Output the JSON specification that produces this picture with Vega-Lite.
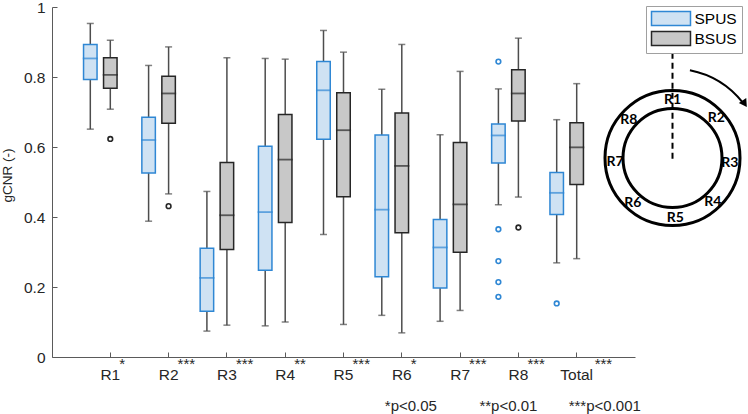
{
  "$schema": "https://vega.github.io/schema/vega-lite/v6.json",
  "autosize": {"type": "none"},
  "padding": {"left": 52, "top": 7, "right": 113, "bottom": 57},
  "width": 583,
  "height": 350,
  "background": "white",
  "config": {
    "view": {"stroke": null},
    "font": "Liberation Sans",
    "text": {"font": "Liberation Sans"}
  },
  "datasets": {
    "boxes": [
      {"region": "R1", "series": "SPUS", "lo": 0.651, "q1": 0.793, "med": 0.853, "q3": 0.893, "hi": 0.953},
      {"region": "R1", "series": "BSUS", "lo": 0.708, "q1": 0.768, "med": 0.806, "q3": 0.855, "hi": 0.905},
      {"region": "R2", "series": "SPUS", "lo": 0.388, "q1": 0.526, "med": 0.620, "q3": 0.685, "hi": 0.833},
      {"region": "R2", "series": "BSUS", "lo": 0.466, "q1": 0.668, "med": 0.753, "q3": 0.802, "hi": 0.886},
      {"region": "R3", "series": "SPUS", "lo": 0.074, "q1": 0.131, "med": 0.226, "q3": 0.311, "hi": 0.473},
      {"region": "R3", "series": "BSUS", "lo": 0.091, "q1": 0.307, "med": 0.405, "q3": 0.556, "hi": 0.855},
      {"region": "R4", "series": "SPUS", "lo": 0.089, "q1": 0.248, "med": 0.414, "q3": 0.602, "hi": 0.853},
      {"region": "R4", "series": "BSUS", "lo": 0.100, "q1": 0.384, "med": 0.564, "q3": 0.693, "hi": 0.851},
      {"region": "R5", "series": "SPUS", "lo": 0.350, "q1": 0.622, "med": 0.762, "q3": 0.844, "hi": 0.933},
      {"region": "R5", "series": "BSUS", "lo": 0.093, "q1": 0.458, "med": 0.648, "q3": 0.755, "hi": 0.871},
      {"region": "R6", "series": "SPUS", "lo": 0.119, "q1": 0.229, "med": 0.421, "q3": 0.634, "hi": 0.765},
      {"region": "R6", "series": "BSUS", "lo": 0.069, "q1": 0.355, "med": 0.546, "q3": 0.697, "hi": 0.893},
      {"region": "R7", "series": "SPUS", "lo": 0.102, "q1": 0.197, "med": 0.313, "q3": 0.393, "hi": 0.635},
      {"region": "R7", "series": "BSUS", "lo": 0.133, "q1": 0.299, "med": 0.436, "q3": 0.613, "hi": 0.816},
      {"region": "R8", "series": "SPUS", "lo": 0.435, "q1": 0.554, "med": 0.633, "q3": 0.666, "hi": 0.766},
      {"region": "R8", "series": "BSUS", "lo": 0.457, "q1": 0.674, "med": 0.753, "q3": 0.821, "hi": 0.911},
      {"region": "Total", "series": "SPUS", "lo": 0.269, "q1": 0.407, "med": 0.469, "q3": 0.527, "hi": 0.678},
      {"region": "Total", "series": "BSUS", "lo": 0.281, "q1": 0.493, "med": 0.599, "q3": 0.669, "hi": 0.781}
    ],
    "outliers": [
      {"region": "R1", "series": "BSUS", "value": 0.623},
      {"region": "R2", "series": "BSUS", "value": 0.431},
      {"region": "R8", "series": "SPUS", "value": 0.844},
      {"region": "R8", "series": "SPUS", "value": 0.365},
      {"region": "R8", "series": "SPUS", "value": 0.274},
      {"region": "R8", "series": "SPUS", "value": 0.214},
      {"region": "R8", "series": "SPUS", "value": 0.172},
      {"region": "R8", "series": "BSUS", "value": 0.370},
      {"region": "Total", "series": "SPUS", "value": 0.153}
    ],
    "stars": [
      {"region": "R1", "sig": "*"},
      {"region": "R2", "sig": "***"},
      {"region": "R3", "sig": "***"},
      {"region": "R4", "sig": "**"},
      {"region": "R5", "sig": "***"},
      {"region": "R6", "sig": "*"},
      {"region": "R7", "sig": "***"},
      {"region": "R8", "sig": "***"},
      {"region": "Total", "sig": "***"}
    ],
    "ring": [{"cx": 0, "cy": 0}],
    "axisline": [{"x": 0, "y": 1.54, "y2": -0.03}],
    "sectors": [
      {"name": "R1", "x": 0.0, "y": 0.85},
      {"name": "R2", "x": 0.64, "y": 0.59},
      {"name": "R3", "x": 0.84, "y": -0.07},
      {"name": "R4", "x": 0.59, "y": -0.65},
      {"name": "R5", "x": 0.04, "y": -0.88},
      {"name": "R6", "x": -0.58, "y": -0.66},
      {"name": "R7", "x": -0.84, "y": -0.06},
      {"name": "R8", "x": -0.64, "y": 0.56}
    ],
    "arrowtip": [{"x": 1.057, "y": 0.794}]
  },
  "layer": [
    {
      "encoding": {
        "x": {
          "field": "region",
          "type": "nominal",
          "sort": null,
          "scale": {
            "domain": ["R1", "R2", "R3", "R4", "R5", "R6", "R7", "R8", "Total"],
            "paddingInner": 0,
            "paddingOuter": 0.5
          },
          "axis": {
            "title": null,
            "labelAngle": 0,
            "tickSize": -5,
            "labelPadding": 15,
            "labelFontSize": 15.5,
            "labelColor": "#262626",
            "domainColor": "#5a5a5a",
            "tickColor": "#5a5a5a",
            "domainWidth": 1,
            "tickWidth": 1
          }
        }
      },
      "layer": [
        {
          "data": {"name": "boxes"},
          "mark": {"type": "rule", "color": "#4d4d4d", "strokeWidth": 1.5},
          "encoding": {
            "xOffset": {"field": "series", "scale": {"domain": ["SPUS", "BSUS"], "range": [-0.85, 39.15], "paddingInner": 0, "paddingOuter": 0}},
            "y": {
              "field": "lo",
              "type": "quantitative",
              "title": "gCNR (-)",
              "scale": {"domain": [0, 1], "nice": false},
              "axis": {
                "values": [0, 0.2, 0.4, 0.6, 0.8, 1],
                "format": "~g",
                "grid": false,
                "tickSize": -5,
                "labelPadding": 12,
                "labelFontSize": 15.5,
                "labelColor": "#262626",
                "domainColor": "#5a5a5a",
                "tickColor": "#5a5a5a",
                "titleFontSize": 13.5,
                "titleFontWeight": "normal",
                "titleColor": "#262626",
                "titlePadding": 9,
                "titleAlign": "left",
                "titleY": 195
              }
            },
            "y2": {"field": "hi"}
          }
        },
        {
          "data": {"name": "boxes"},
          "mark": {"type": "tick", "orient": "horizontal", "size": 7, "thickness": 1.5, "color": "#4d4d4d"},
          "encoding": {
            "xOffset": {"field": "series", "scale": {"domain": ["SPUS", "BSUS"], "range": [-0.85, 39.15], "paddingInner": 0, "paddingOuter": 0}},
            "y": {"field": "lo", "type": "quantitative", "title": "gCNR (-)"}
          }
        },
        {
          "data": {"name": "boxes"},
          "mark": {"type": "tick", "orient": "horizontal", "size": 7, "thickness": 1.5, "color": "#4d4d4d"},
          "encoding": {
            "xOffset": {"field": "series", "scale": {"domain": ["SPUS", "BSUS"], "range": [-0.85, 39.15], "paddingInner": 0, "paddingOuter": 0}},
            "y": {"field": "hi", "type": "quantitative", "title": "gCNR (-)"}
          }
        },
        {
          "data": {"name": "boxes"},
          "mark": {"type": "bar", "size": 13.5, "strokeWidth": 1.5},
          "encoding": {
            "xOffset": {"field": "series", "scale": {"domain": ["SPUS", "BSUS"], "range": [-0.85, 39.15], "paddingInner": 0, "paddingOuter": 0}},
            "y": {"field": "q1", "type": "quantitative", "title": "gCNR (-)"},
            "y2": {"field": "q3"},
            "fill": {
              "field": "series",
              "type": "nominal",
              "title": null,
              "scale": {"domain": ["SPUS", "BSUS"], "range": ["#cfe2f3", "#c8c8c8"]},
              "legend": {
                "orient": "none",
                "legendX": 594,
                "legendY": -1,
                "title": null,
                "symbolType": "M-1,-1H4.57V1H-1Z",
                "symbolSize": 196,
                "symbolStrokeWidth": 1.5,
                "labelFontSize": 15.5,
                "labelColor": "black",
                "labelOffset": 28,
                "padding": 4.5,
                "rowPadding": 0,
                "strokeColor": "#a0a0a0",
                "fillColor": "white"
              }
            },
            "stroke": {
              "field": "series",
              "type": "nominal",
              "title": null,
              "scale": {"domain": ["SPUS", "BSUS"], "range": ["#2f87d4", "#262626"]},
              "legend": {
                "orient": "none",
                "legendX": 594,
                "legendY": -1,
                "title": null,
                "symbolType": "M-1,-1H4.57V1H-1Z",
                "symbolSize": 196,
                "symbolStrokeWidth": 1.5,
                "labelFontSize": 15.5,
                "labelColor": "black",
                "labelOffset": 28,
                "padding": 4.5,
                "rowPadding": 0,
                "strokeColor": "#a0a0a0",
                "fillColor": "white"
              }
            }
          }
        },
        {
          "data": {"name": "boxes"},
          "mark": {"type": "tick", "orient": "horizontal", "size": 13.5, "thickness": 0.2, "filled": false, "strokeWidth": 1.6},
          "encoding": {
            "xOffset": {"field": "series", "scale": {"domain": ["SPUS", "BSUS"], "range": [-0.85, 39.15], "paddingInner": 0, "paddingOuter": 0}},
            "y": {"field": "med", "type": "quantitative", "title": "gCNR (-)"},
            "stroke": {"field": "series", "type": "nominal", "title": null}
          }
        },
        {
          "data": {"name": "outliers"},
          "mark": {"type": "point", "shape": "circle", "filled": false, "size": 22, "strokeWidth": 1.6, "opacity": 1},
          "encoding": {
            "xOffset": {"field": "series", "scale": {"domain": ["SPUS", "BSUS"], "range": [-0.85, 39.15], "paddingInner": 0, "paddingOuter": 0}},
            "y": {"field": "value", "type": "quantitative", "title": "gCNR (-)"},
            "stroke": {"field": "series", "type": "nominal", "title": null}
          }
        },
        {
          "data": {"name": "stars"},
          "transform": [{"filter": "datum.region !== 'Total'"}],
          "mark": {"type": "text", "align": "left", "baseline": "alphabetic", "dx": 9, "fontSize": 15, "color": "#262626"},
          "encoding": {
            "y": {"datum": -0.034, "type": "quantitative"},
            "text": {"field": "sig"}
          }
        },
        {
          "data": {"name": "stars"},
          "transform": [{"filter": "datum.region === 'Total'"}],
          "mark": {"type": "text", "align": "left", "baseline": "alphabetic", "dx": 18, "fontSize": 15, "color": "#262626"},
          "encoding": {
            "y": {"datum": -0.034, "type": "quantitative"},
            "text": {"field": "sig"}
          }
        },
        {
          "data": {"values": [{"region": "R6", "note": "*p<0.05"}]},
          "mark": {"type": "text", "align": "left", "baseline": "alphabetic", "dx": -17, "fontSize": 15, "color": "#262626"},
          "encoding": {
            "y": {"datum": -0.154, "type": "quantitative"},
            "text": {"field": "note"}
          }
        },
        {
          "data": {"values": [{"region": "R8", "note": "**p<0.01"}]},
          "mark": {"type": "text", "align": "left", "baseline": "alphabetic", "dx": -39, "fontSize": 15, "color": "#262626"},
          "encoding": {
            "y": {"datum": -0.154, "type": "quantitative"},
            "text": {"field": "note"}
          }
        },
        {
          "data": {"values": [{"region": "Total", "note": "***p<0.001"}]},
          "mark": {"type": "text", "align": "left", "baseline": "alphabetic", "dx": -8, "fontSize": 15, "color": "#262626"},
          "encoding": {
            "y": {"datum": -0.154, "type": "quantitative"},
            "text": {"field": "note"}
          }
        }
      ]
    },
    {
      "layer": [
        {
          "data": {"name": "axisline"},
          "mark": {"type": "rule", "color": "black", "strokeWidth": 2, "strokeDash": [6, 4]},
          "encoding": {
            "x": {"field": "x", "type": "quantitative", "axis": null, "scale": {"domain": [-1, 1], "range": [552.2, 688.8], "nice": false, "zero": false}},
            "y": {"field": "y", "type": "quantitative", "axis": null, "scale": {"domain": [-1, 1], "range": [219.3, 82.7], "nice": false, "zero": false}},
            "y2": {"field": "y2"}
          }
        },
        {
          "data": {"name": "ring"},
          "mark": {"type": "point", "shape": "circle", "filled": false, "size": 18225, "stroke": "black", "strokeWidth": 3, "opacity": 1},
          "encoding": {
            "x": {"field": "cx", "type": "quantitative", "axis": null},
            "y": {"field": "cy", "type": "quantitative", "axis": null}
          }
        },
        {
          "data": {"name": "ring"},
          "mark": {"type": "point", "shape": "circle", "filled": false, "size": 9801, "stroke": "black", "strokeWidth": 3, "opacity": 1},
          "encoding": {
            "x": {"field": "cx", "type": "quantitative", "axis": null},
            "y": {"field": "cy", "type": "quantitative", "axis": null}
          }
        },
        {
          "data": {"name": "ring"},
          "mark": {"type": "arc", "theta": 0.196, "theta2": 0.9, "radius": 90.5, "radius2": 88.5, "fill": "black"},
          "encoding": {
            "x": {"field": "cx", "type": "quantitative", "axis": null},
            "y": {"field": "cy", "type": "quantitative", "axis": null}
          }
        },
        {
          "data": {"name": "arrowtip"},
          "mark": {"type": "point", "shape": "triangle-down", "filled": true, "size": 80, "angle": 326, "color": "black", "opacity": 1},
          "encoding": {
            "x": {"field": "x", "type": "quantitative", "axis": null},
            "y": {"field": "y", "type": "quantitative", "axis": null}
          }
        },
        {
          "data": {"name": "sectors"},
          "mark": {"type": "text", "font": "Lato", "fontWeight": "bold", "fontSize": 14, "color": "black", "align": "center", "baseline": "middle"},
          "encoding": {
            "x": {"field": "x", "type": "quantitative", "axis": null},
            "y": {"field": "y", "type": "quantitative", "axis": null},
            "text": {"field": "name"}
          }
        }
      ]
    }
  ],
  "resolve": {"scale": {"x": "independent", "y": "independent"}}
}
